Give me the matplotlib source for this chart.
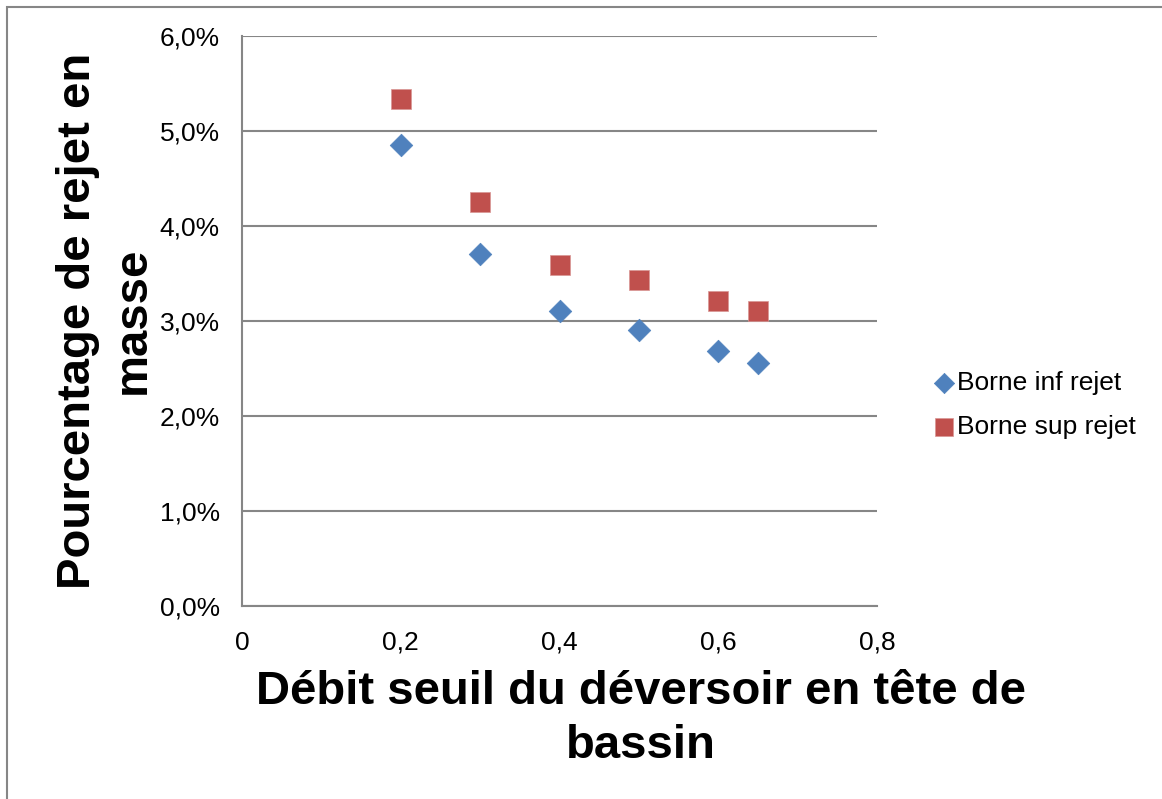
import matplotlib
matplotlib.use("Agg")
import matplotlib.pyplot as plt
from matplotlib.ticker import FuncFormatter
from matplotlib.patches import Rectangle

# donnees
debit = [0.2, 0.3, 0.4, 0.5, 0.6, 0.65]
borne_inf = [4.85, 3.70, 3.10, 2.90, 2.68, 2.56]
borne_sup = [5.33, 4.25, 3.59, 3.43, 3.21, 3.10]
x_ticks = [0, 0.2, 0.4, 0.6, 0.8]
y_ticks = [0, 1, 2, 3, 4, 5, 6]

plt.rcParams['font.family'] = ['Liberation Sans', 'DejaVu Sans']

fig = plt.figure(figsize=(11.62, 7.99), dpi=100)
ax = fig.add_axes([242 / 1162, 1 - 605.7 / 799, 635 / 1162, 570 / 799])

grid_col = '#868686'
ax.scatter(debit, borne_inf, marker='D', s=15.5 ** 2 * 0.55, color='#4F81BD',
           edgecolors='#4F81BD', linewidths=0.5, label='Borne inf rejet', zorder=3)
ax.scatter(debit, borne_sup, marker='s', s=15 ** 2, color='#C0504D',
           edgecolors='#D99694', linewidths=0.5, label='Borne sup rejet', zorder=3)

ax.set_xlim(0, 0.8)
ax.set_ylim(0, 6)
ax.set_xticks(x_ticks)
ax.set_yticks(y_ticks)
ax.xaxis.set_major_formatter(FuncFormatter(lambda v, p: '0' if v == 0 else ('%.1f' % v).replace('.', ',')))
ax.yaxis.set_major_formatter(FuncFormatter(lambda v, p: ('%.1f%%' % v).replace('.', ',')))
ax.grid(axis='y', color=grid_col, linewidth=1.5)
ax.set_axisbelow(True)
for s in ['top', 'right']:
    ax.spines[s].set_visible(False)
for s in ['left', 'bottom']:
    ax.spines[s].set_color(grid_col)
    ax.spines[s].set_linewidth(1.5)
ax.tick_params(length=0, labelsize=19)
ax.tick_params(axis='x', pad=18)
ax.tick_params(axis='y', pad=16)

# titres des axes
fig.text(641 / 1162, 1 - 719 / 799, 'Débit seuil du déversoir en tête de\nbassin',
         ha='center', va='center', fontsize=34, fontweight='bold', linespacing=1.32)
fig.text(105 / 1162, 1 - 320.7 / 799, 'Pourcentage de rejet en\nmasse',
         ha='center', va='center', rotation=90, fontsize=34, fontweight='bold', linespacing=1.32)

ax.legend(loc='center left', bbox_to_anchor=(933 / 1162, 1 - 405 / 799),
          bbox_transform=fig.transFigure, frameon=False, fontsize=19,
          handlelength=0.8, handletextpad=0.1, labelspacing=0.75, borderaxespad=0,
          borderpad=0, markerscale=0.9)

# cadre du graphique
fig.add_artist(Rectangle((7 / 1162, -0.1), 2, 1.1 - 7 / 799, transform=fig.transFigure,
                         fill=False, edgecolor=grid_col, linewidth=1.5))

plt.savefig("out.png", dpi=100)
